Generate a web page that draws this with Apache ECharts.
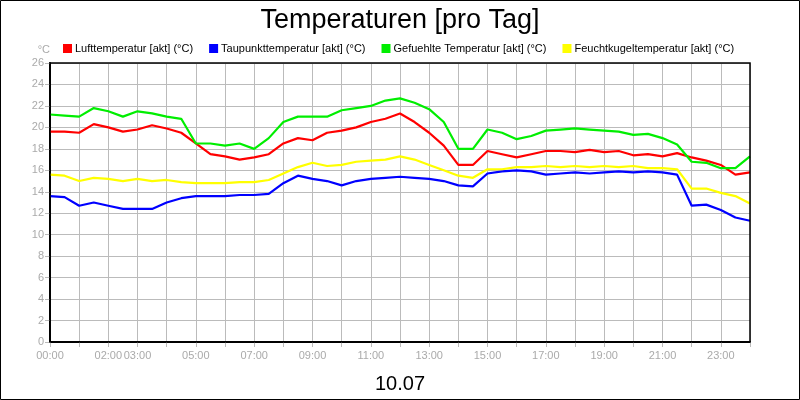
<!DOCTYPE html>
<html>
<head>
<meta charset="utf-8">
<script src="https://cdn.jsdelivr.net/npm/echarts@6/dist/echarts.min.js"></script>
</head>
<body style="margin:0">
<div id="chart" style="width:800px;height:400px"></div>
<script>
// half-hour readings, 00:00 .. 24:00
var hours = [];
for (var i = 0; i <= 48; i++) hours.push(i / 2);
var luft = [19.6,19.6,19.5,20.3,20.0,19.6,19.8,20.2,19.9,19.5,18.5,17.5,17.3,17.0,17.2,17.5,18.5,19.0,18.8,19.5,19.7,20.0,20.5,20.8,21.3,20.5,19.5,18.3,16.5,16.5,17.8,17.5,17.2,17.5,17.8,17.8,17.7,17.9,17.7,17.8,17.4,17.5,17.3,17.6,17.2,16.9,16.5,15.6,15.8];
var taupunkt = [13.6,13.5,12.7,13.0,12.7,12.4,12.4,12.4,13.0,13.4,13.6,13.6,13.6,13.7,13.7,13.8,14.8,15.5,15.2,15.0,14.6,15.0,15.2,15.3,15.4,15.3,15.2,15.0,14.6,14.5,15.7,15.9,16.0,15.9,15.6,15.7,15.8,15.7,15.8,15.9,15.8,15.9,15.8,15.6,12.7,12.8,12.3,11.6,11.3];
var gefuehlt = [21.2,21.1,21.0,21.8,21.5,21.0,21.5,21.3,21.0,20.8,18.5,18.5,18.3,18.5,18.0,19.0,20.5,21.0,21.0,21.0,21.6,21.8,22.0,22.5,22.7,22.3,21.7,20.5,18.0,18.0,19.8,19.5,18.9,19.2,19.7,19.8,19.9,19.8,19.7,19.6,19.3,19.4,19.0,18.4,16.8,16.7,16.2,16.2,17.3];
var feucht = [15.6,15.5,15.0,15.3,15.2,15.0,15.2,15.0,15.1,14.9,14.8,14.8,14.8,14.9,14.9,15.1,15.7,16.3,16.7,16.4,16.5,16.8,16.9,17.0,17.3,17.0,16.5,16.0,15.5,15.3,16.1,16.1,16.3,16.3,16.4,16.3,16.4,16.3,16.4,16.3,16.4,16.2,16.2,16.1,14.3,14.3,13.9,13.6,12.9];
var tickLabels = {0:'00:00',2:'02:00',3:'03:00',5:'05:00',7:'07:00',9:'09:00',11:'11:00',13:'13:00',15:'15:00',17:'17:00',19:'19:00',21:'21:00',23:'23:00'};

function pts(arr) { return arr.map(function (v, i) { return [hours[i], v]; }); }
function line(name, color, arr) {
    return { name: name, type: 'line', data: pts(arr), showSymbol: false, smooth: false,
             lineStyle: { color: color, width: 2.2 }, itemStyle: { color: color } };
}

var myChart = echarts.init(document.getElementById('chart'));
myChart.setOption({
    animation: false,
    backgroundColor: '#fff',
    graphic: [{ type: 'rect', shape: { x: 0.5, y: 0.5, width: 799, height: 399 },
                style: { fill: 'none', stroke: '#000', lineWidth: 1 } },
              { type: 'rect', shape: { x: 50, y: 63, width: 700, height: 279 },
                style: { fill: 'none', stroke: '#000', lineWidth: 1.5 }, z: 10 }],
    title: { text: 'Temperaturen [pro Tag]', left: 'center', top: 2,
             textStyle: { fontFamily: 'Liberation Sans', fontSize: 27, fontWeight: 'normal', color: '#000' } },
    legend: { top: 38, left: 58, itemWidth: 9, itemHeight: 9, itemGap: 16, icon: 'rect',
              textStyle: { fontFamily: 'Liberation Sans', fontSize: 11, color: '#000', padding: [0, 0, 0, -2] } },
    grid: { left: 50, right: 50, top: 63, bottom: 58 },
    xAxis: {
        type: 'value', min: 0, max: 24, interval: 1,
        name: '10.07', nameLocation: 'middle', nameGap: 32,
        nameTextStyle: { fontFamily: 'Liberation Sans', fontSize: 20, color: '#000' },
        axisLine: { lineStyle: { color: '#000', width: 2 } },
        axisTick: { show: true, length: 5, lineStyle: { color: '#bbb' } },
        axisLabel: { color: '#aaa', fontSize: 11, fontFamily: 'Liberation Sans',
                     formatter: function (v) { return tickLabels[v] || ''; } },
        splitLine: { show: true, lineStyle: { color: '#bbb', width: 1 } }
    },
    yAxis: {
        type: 'value', min: 0, max: 26, interval: 2,
        name: '°C', nameGap: 8, nameTextStyle: { color: '#aaa', fontSize: 11, align: 'right' },
        axisLine: { show: true, lineStyle: { color: '#000', width: 2 } },
        axisTick: { show: true, length: 5, lineStyle: { color: '#bbb' } },
        axisLabel: { color: '#aaa', fontSize: 11, fontFamily: 'Liberation Sans', margin: 6 },
        splitLine: { lineStyle: { color: '#bbb', width: 1 } }
    },
    series: [
        line('Lufttemperatur [akt] (°C)', '#ff0000', luft),
        line('Taupunkttemperatur [akt] (°C)', '#0000ff', taupunkt),
        line('Gefuehlte Temperatur [akt] (°C)', '#00ee00', gefuehlt),
        line('Feuchtkugeltemperatur [akt] (°C)', '#ffff00', feucht)
    ]
});
</script>
</body>
</html>
